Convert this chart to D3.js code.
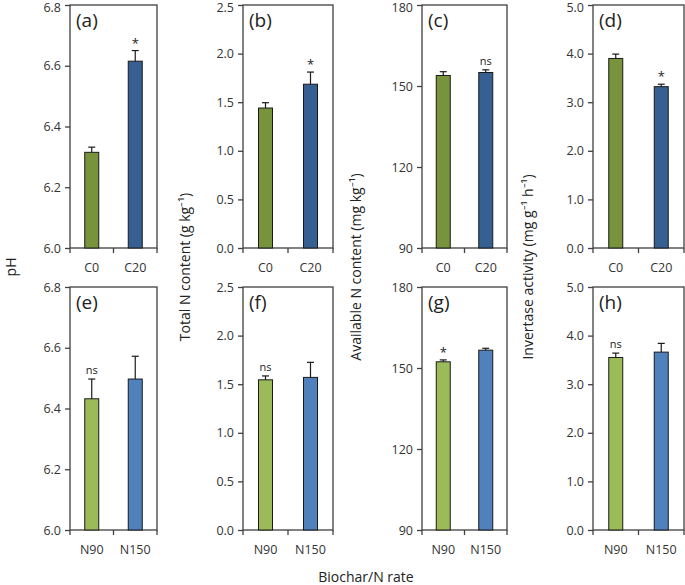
<!DOCTYPE html>
<html><head><meta charset="utf-8">
<script src="https://cdn.jsdelivr.net/npm/d3@7"></script>
<style>
body{margin:0;background:#fff;}
svg{display:block;font-family:"Open Sans",sans-serif;}
</style></head>
<body><svg id="chart" width="685" height="585"></svg>
<script>
// ---- data ----
const topCategories = ["C0", "C20"];
const bottomCategories = ["N90", "N150"];
const panelLetters = ["(a)", "(b)", "(c)", "(d)", "(e)", "(f)", "(g)", "(h)"];
const yDomains = [[6.0, 6.8], [0, 2.5], [90, 180], [0, 5]];
const yTickValues = [
  [6.0, 6.2, 6.4, 6.6, 6.8],
  [0, 0.5, 1.0, 1.5, 2.0, 2.5],
  [90, 120, 150, 180],
  [0, 1, 2, 3, 4, 5]
];
const yTickFormats = [".1f", ".1f", "d", ".1f"];
const yTitles = ["pH", "Total N content (g kg\u207B\u00B9)", "Available N content (mg kg\u207B\u00B9)", "Invertase activity (mg g\u207B\u00B9 h\u207B\u00B9)"];
const xTitle = "Biochar/N rate";

const meansTop = [[6.315, 6.615], [1.44, 1.685], [153.9, 155.0], [3.90, 3.32]];
const seTop = [[0.017, 0.035], [0.055, 0.125], [1.4, 1.0], [0.09, 0.05]];
const sigTop = [["", "*"], ["", "*"], ["", "ns"], ["", "*"]];

const meansBottom = [[6.432, 6.497], [1.545, 1.57], [152.3, 156.6], [3.55, 3.66]];
const seBottom = [[0.065, 0.075], [0.04, 0.155], [0.7, 0.7], [0.09, 0.18]];
const sigBottom = [["ns", ""], ["ns", ""], ["*", ""], ["ns", ""]];

const topColors = ["#77933C", "#376092"];
const bottomColors = ["#9BBB59", "#4F81BD"];

// ---- layout ----
const colLeft = [70, 243, 422, 593];
const colRight = [157, 333, 507, 684];
const rowTop = [5, 287];
const rowBottom = [248, 530];
const axisColor = "#404040";

const svg = d3.select("#chart");

function drawPanel(col, row) {
  const cats = row === 0 ? topCategories : bottomCategories;
  const means = (row === 0 ? meansTop : meansBottom)[col];
  const se = (row === 0 ? seTop : seBottom)[col];
  const sig = (row === 0 ? sigTop : sigBottom)[col];
  const colors = row === 0 ? topColors : bottomColors;
  const letter = panelLetters[row * 4 + col];

  const x = d3.scaleBand().domain(cats).range([colLeft[col], colRight[col]]).paddingInner(0).paddingOuter(0);
  const y = d3.scaleLinear().domain(yDomains[col]).range([rowBottom[row], rowTop[row]]);
  const g = svg.append("g");
  const bw = 14;

  // frame
  g.append("rect")
    .attr("x", colLeft[col]).attr("y", rowTop[row])
    .attr("width", colRight[col] - colLeft[col]).attr("height", rowBottom[row] - rowTop[row])
    .attr("fill", "none").attr("stroke", axisColor).attr("stroke-width", 1.3);

  // bars
  const data = cats.map((c, i) => ({c, m: means[i], s: se[i], sig: sig[i], color: colors[i]}));
  g.selectAll("rect.bar").data(data).enter().append("rect")
    .attr("class", "bar")
    .attr("x", d => x(d.c) + x.bandwidth() / 2 - bw / 2)
    .attr("width", bw)
    .attr("y", d => y(d.m))
    .attr("height", d => y(yDomains[col][0]) - y(d.m))
    .attr("fill", d => d.color)
    .attr("stroke", "#1a1a1a").attr("stroke-width", 1);

  // error bars (upper)
  const eb = g.selectAll("g.eb").data(data).enter().append("g").attr("stroke", "#1a1a1a").attr("stroke-width", 1.2);
  eb.append("line")
    .attr("x1", d => x(d.c) + x.bandwidth() / 2).attr("x2", d => x(d.c) + x.bandwidth() / 2)
    .attr("y1", d => y(d.m)).attr("y2", d => y(d.m + d.s));
  eb.append("line")
    .attr("x1", d => x(d.c) + x.bandwidth() / 2 - 3.5).attr("x2", d => x(d.c) + x.bandwidth() / 2 + 3.5)
    .attr("y1", d => y(d.m + d.s)).attr("y2", d => y(d.m + d.s));

  // significance
  g.selectAll("text.sig").data(data.filter(d => d.sig)).enter().append("text")
    .attr("x", d => x(d.c) + x.bandwidth() / 2)
    .attr("y", d => y(d.m + d.s) - (d.sig === "*" ? 3 : 5))
    .attr("text-anchor", "middle")
    .attr("font-size", d => d.sig === "*" ? 13 : 11)
    .attr("fill", "#222")
    .text(d => d.sig);

  // y axis
  const yAxis = d3.axisLeft(y).tickValues(yTickValues[col]).tickFormat(d3.format(yTickFormats[col])).tickSizeOuter(0).tickSize(5).tickPadding(4);
  const ya = g.append("g").attr("transform", `translate(${colLeft[col]},0)`).call(yAxis);
  ya.select(".domain").remove();
  ya.selectAll("line").attr("stroke", axisColor).attr("stroke-width", 1.3);
  ya.selectAll("text").attr("font-size", 12.5).attr("fill", "#333").attr("font-family", "'Open Sans',sans-serif");
  // keep the topmost label of the top row inside the picture
  if (row === 0) {
    ya.selectAll(".tick").filter(d => d === yDomains[col][1]).select("text").attr("dy", "0.55em");
  }

  // x axis ticks at band boundaries
  const bounds = [colLeft[col], x(cats[1]), colRight[col]];
  g.selectAll("line.xt").data(bounds).enter().append("line")
    .attr("x1", d => d).attr("x2", d => d)
    .attr("y1", rowBottom[row]).attr("y2", rowBottom[row] + 5)
    .attr("stroke", axisColor).attr("stroke-width", 1.3);
  g.selectAll("text.xl").data(cats).enter().append("text")
    .attr("x", d => x(d) + x.bandwidth() / 2)
    .attr("y", rowBottom[row] + 24)
    .attr("text-anchor", "middle").attr("font-size", 12.5).attr("fill", "#333")
    .text(d => d);

  // panel letter
  g.append("text").attr("x", colLeft[col] + 6).attr("y", rowTop[row] + 22)
    .attr("font-size", 19).attr("fill", "#222").text(letter);
}

for (let r = 0; r < 2; r++) for (let c = 0; c < 4; c++) drawPanel(c, r);

// axis titles
const titleX = [12, 186, 357, 529];
yTitles.forEach((t, i) => {
  svg.append("text")
    .attr("transform", `translate(${titleX[i]},267) rotate(-90)`)
    .attr("text-anchor", "middle").attr("dominant-baseline", "middle")
    .attr("font-size", 14).attr("fill", "#222").text(t);
});
svg.append("text").attr("x", 366).attr("y", 582)
  .attr("text-anchor", "middle").attr("font-size", 14).attr("fill", "#222").text(xTitle);
</script></body></html>
